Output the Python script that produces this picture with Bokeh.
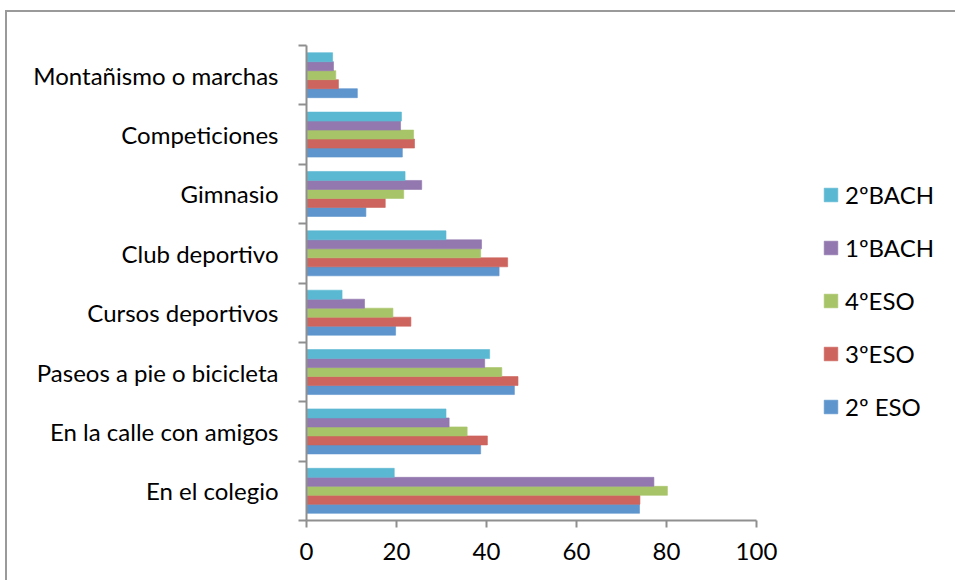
from bokeh.plotting import figure
from bokeh.models import (FixedTicker, Legend, LegendItem, ColumnDataSource, Range1d)
from bokeh.transform import dodge
from bokeh.embed import file_html
from bokeh.resources import INLINE

categories = ["En el colegio", "En la calle con amigos", "Paseos a pie o bicicleta",
              "Cursos deportivos", "Club deportivo", "Gimnasio",
              "Competiciones", "Montañismo o marchas"]
series = ["2º ESO", "3ºESO", "4ºESO", "1ºBACH", "2ºBACH"]
eso2 = [74.0, 38.7, 46.2, 19.8, 42.8, 13.2, 21.3, 11.3]
eso3 = [74.1, 40.2, 47.0, 23.2, 44.7, 17.5, 24.0, 7.1]
eso4 = [80.2, 35.7, 43.4, 19.2, 38.7, 21.6, 23.8, 6.5]
bach1 = [77.2, 31.7, 39.6, 12.9, 38.9, 25.6, 20.9, 6.0]
bach2 = [19.5, 31.0, 40.7, 7.9, 31.0, 21.9, 21.1, 5.8]
colors = ["#5E95CD", "#CD645D", "#A8C469", "#9378AF", "#5BB8D2"]
xticks = [0, 20, 40, 60, 80, 100]

FONT = "Lato"
FS = "24px"

W, H = 955, 580
LEFT, RIGHT, TOP, BOTTOM = 306, 5, 45, 60
AXIS_PX = 450  # pixel length of the 0..100 value axis
x_end = xticks[-1] * (W - LEFT - RIGHT) / AXIS_PX  # extra room on the right holds the legend

pos = [i + 0.5 for i in range(len(categories))]
src = ColumnDataSource(dict(y=pos, eso2=eso2, eso3=eso3, eso4=eso4, bach1=bach1, bach2=bach2))
cols = ["eso2", "eso3", "eso4", "bach1", "bach2"]

p = figure(width=W, height=H, output_backend="svg", toolbar_location=None,
           x_range=Range1d(0, x_end), y_range=Range1d(0, len(categories)),
           min_border_left=LEFT, min_border_right=RIGHT, min_border_top=TOP, min_border_bottom=BOTTOM)
frame_css = ("linear-gradient(#9a9a9a, #9a9a9a) 5px 10px / 2px 100% no-repeat, "
             "linear-gradient(#9a9a9a, #9a9a9a) 5px 10px / 100% 2px no-repeat, white")
p.styles = {"background": frame_css}

bw = 0.1515
renderers = []
for j, c in enumerate(cols):
    r = p.hbar(y=dodge("y", (j - 2) * bw, range=p.y_range), right=c, left=0, height=bw,
               source=src, fill_color=colors[j], line_color=colors[j], line_alpha=0.6, line_width=1)
    renderers.append(r)

p.grid.visible = False
p.outline_line_color = None
p.background_fill_alpha = 0
p.border_fill_alpha = 0

axis_color = "#8f8f8f"
xa = p.xaxis[0]
xa.ticker = FixedTicker(ticks=xticks)
xa.bounds = (xticks[0], xticks[-1])
xa.axis_line_color = axis_color
xa.axis_line_width = 2
xa.major_tick_line_color = axis_color
xa.major_tick_line_width = 2
xa.major_tick_out = 7
xa.major_tick_in = 0
xa.minor_tick_line_color = None
xa.major_label_text_font = FONT
xa.major_label_text_font_size = FS
xa.major_label_text_color = "black"
xa.major_label_standoff = 15

ya = p.yaxis[0]
ya.ticker = FixedTicker(ticks=pos, minor_ticks=list(range(len(categories) + 1)))
ya.major_label_overrides = {pv: c for pv, c in zip(pos, categories)}
ya.axis_line_color = axis_color
ya.axis_line_width = 2
ya.major_tick_line_color = None
ya.major_tick_out = 0
ya.major_tick_in = 0
ya.minor_tick_line_color = axis_color
ya.minor_tick_line_width = 2
ya.minor_tick_out = 8
ya.minor_tick_in = 0
ya.major_label_text_font = FONT
ya.major_label_text_font_size = FS
ya.major_label_text_color = "black"
ya.major_label_standoff = 20

items = [LegendItem(label=series[j], renderers=[renderers[j]]) for j in reversed(range(5))]
legend = Legend(items=items, location=(516, 99), orientation="vertical",
                label_text_font=FONT, label_text_font_size=FS, label_text_color="black",
                glyph_width=17, glyph_height=17, label_height=15, label_standoff=6, spacing=24,
                padding=0, margin=0, border_line_color=None, background_fill_alpha=0)
p.add_layout(legend, "center")

open("out.html", "w").write(file_html(p, INLINE))
